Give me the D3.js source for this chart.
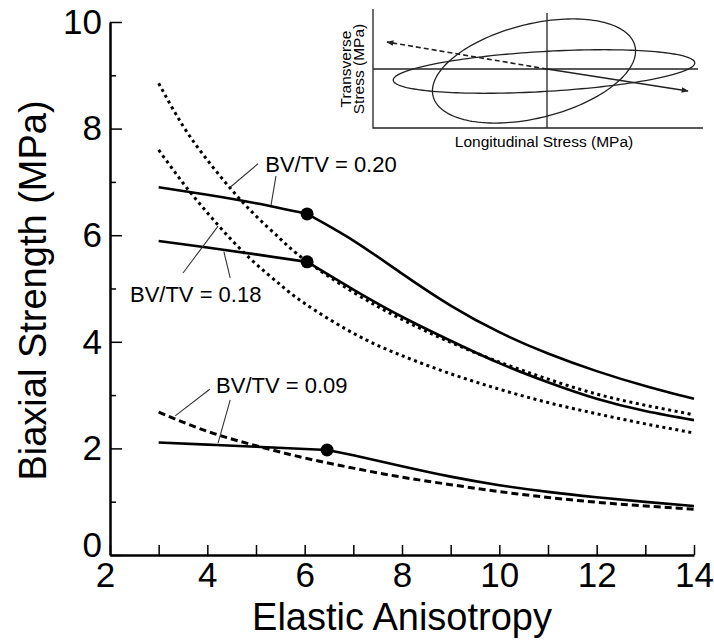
<!DOCTYPE html>
<html>
<head>
<meta charset="utf-8">
<script src="https://cdn.jsdelivr.net/npm/d3@7"></script>
<style>
  body { margin: 0; background: #fff; }
  svg text { font-family: "Liberation Sans", Arial, Helvetica, sans-serif; fill: #000; }
</style>
</head>
<body>
<svg id="grafico" width="714" height="640"></svg>
<script>
const ancho = 714;
const alto = 640;

// BV/TV = 0.20
const solido20X = [3, 4, 5, 6.05, 7, 8, 9, 10, 11, 12, 13, 14];
const solido20Y = [6.90, 6.76, 6.60, 6.40, 5.90, 5.28, 4.68, 4.18, 3.78, 3.45, 3.17, 2.93];
const punteado20X = [3, 3.5, 4, 4.5, 5, 5.5, 6, 7, 8, 9, 10, 11, 12, 13, 14];
const punteado20Y = [8.85, 8.05, 7.41, 6.85, 6.36, 5.93, 5.54, 4.93, 4.42, 3.99, 3.62, 3.30, 3.02, 2.81, 2.63];

// BV/TV = 0.18
const solido18X = [3, 4, 5, 6.05, 7, 8, 9, 10, 11, 12, 13, 14];
const solido18Y = [5.89, 5.77, 5.64, 5.50, 4.98, 4.47, 4.02, 3.60, 3.24, 2.93, 2.70, 2.53];
const punteado18X = [3, 3.5, 4, 4.5, 5, 5.5, 6, 7, 8, 9, 10, 11, 12, 13, 14];
const punteado18Y = [7.60, 6.98, 6.42, 5.91, 5.46, 5.07, 4.72, 4.16, 3.74, 3.40, 3.11, 2.86, 2.65, 2.46, 2.29];

// BV/TV = 0.09
const solido09X = [3, 4, 5, 6.46, 7, 8, 9, 10, 11, 12, 13, 14];
const solido09Y = [2.11, 2.07, 2.03, 1.97, 1.87, 1.665, 1.47, 1.31, 1.185, 1.085, 0.997, 0.92];
const rayado09X = [3, 4, 5, 6, 7, 8, 9, 10, 11, 12, 13, 14];
const rayado09Y = [2.68, 2.32, 2.05, 1.82, 1.63, 1.46, 1.32, 1.19, 1.08, 0.99, 0.92, 0.86];

// indice del punto de quiebre (circulo negro) en cada curva solida
const quiebres = [3, 3, 3];

const ticksX = [2, 3, 4, 5, 6, 7, 8, 9, 10, 11, 12, 13, 14];
const ticksYMayor = [0, 2, 4, 6, 8, 10];
const ticksYMenor = [1, 3, 5, 7, 9];

const etiquetas = ["BV/TV = 0.20", "BV/TV = 0.18", "BV/TV = 0.09"];

// recuadro: elipses de tension (centro, semiejes, giro en grados)
const elipsesCx = [-0.13, -0.03];
const elipsesCy = [-0.02, -0.025];
const elipsesA = [1.04, 1.51];
const elipsesB = [0.47, 0.20];
const elipsesAng = [14, 3.3];
const flechaPunteadaFin = [-1.60, 0.27];
const flechaSolidaFin = [1.41, -0.22];

const svg = d3.select("#grafico");

const x = d3.scaleLinear().domain([2, 14]).range([110, 694]);
const y = d3.scaleLinear().domain([0, 10]).range([555, 22]);

const zip = (xs, ys) => xs.map((v, i) => [v, ys[i]]);
const linea = d3.line().x(d => x(d[0])).y(d => y(d[1])).curve(d3.curveNatural);

// ejes
const ejeX = svg.append("g")
  .attr("transform", `translate(0,${y(0)})`)
  .call(d3.axisBottom(x).tickValues(ticksX).tickSizeInner(-10).tickSizeOuter(0).tickPadding(7)
    .tickFormat(d => d % 2 === 0 ? d : ""));
ejeX.select(".domain").attr("stroke-width", 2.5);
ejeX.selectAll(".tick line").attr("stroke-width", 1.5);
ejeX.selectAll(".tick text").attr("font-size", 35)
  .attr("dx", d => d === 2 ? -5 : 0);

const ejeY = svg.append("g")
  .attr("transform", `translate(${x(2)},0)`)
  .call(d3.axisLeft(y).tickValues(ticksYMayor).tickSizeInner(-12).tickSizeOuter(0).tickPadding(8));
ejeY.select(".domain").attr("stroke-width", 2.5);
ejeY.selectAll(".tick line").attr("stroke-width", 1.5);
ejeY.selectAll(".tick text").attr("font-size", 35)
  .attr("dy", d => d === 0 ? "0.05em" : "0.32em");

const ejeYMenor = svg.append("g")
  .attr("transform", `translate(${x(2)},0)`)
  .call(d3.axisLeft(y).tickValues(ticksYMenor).tickSizeInner(-6).tickSizeOuter(0).tickFormat(""));
ejeYMenor.select(".domain").remove();
ejeYMenor.selectAll(".tick line").attr("stroke-width", 1.5);

svg.append("text")
  .attr("x", (x(2) + x(14)) / 2).attr("y", 630)
  .attr("text-anchor", "middle").attr("font-size", 38)
  .text("Elastic Anisotropy");

svg.append("text")
  .attr("transform", `translate(46,${(y(0) + y(10)) / 2 + 2}) rotate(-90)`)
  .attr("text-anchor", "middle").attr("font-size", 38)
  .text("Biaxial Strength (MPa)");

// curvas teoricas (punteadas / rayada)
const curvasDiscontinuas = [
  { datos: zip(punteado20X, punteado20Y), guion: "3,3.6" },
  { datos: zip(punteado18X, punteado18Y), guion: "3,3.6" },
  { datos: zip(rayado09X, rayado09Y), guion: "7,4" }
];
svg.selectAll(".discontinua")
  .data(curvasDiscontinuas)
  .enter()
  .append("path")
  .attr("class", "discontinua")
  .attr("fill", "none")
  .attr("stroke", "#000")
  .attr("stroke-width", 3)
  .attr("stroke-dasharray", d => d.guion)
  .attr("d", d => linea(d.datos));

// curvas solidas, en dos tramos a cada lado del quiebre
const curvasSolidas = [
  zip(solido20X, solido20Y),
  zip(solido18X, solido18Y),
  zip(solido09X, solido09Y)
];
const tramos = [];
curvasSolidas.forEach((c, i) => {
  tramos.push(c.slice(0, quiebres[i] + 1));
  tramos.push(c.slice(quiebres[i]));
});
svg.selectAll(".solida")
  .data(tramos)
  .enter()
  .append("path")
  .attr("class", "solida")
  .attr("fill", "none")
  .attr("stroke", "#000")
  .attr("stroke-width", 2.6)
  .attr("d", d => linea(d));

svg.selectAll(".quiebre")
  .data(curvasSolidas.map((c, i) => c[quiebres[i]]))
  .enter()
  .append("circle")
  .attr("class", "quiebre")
  .attr("cx", d => x(d[0]))
  .attr("cy", d => y(d[1]))
  .attr("r", 6.5)
  .attr("fill", "#000");

// etiquetas con lineas guia
const posEtiquetas = [[5.19, 7.19], [2.41, 4.75], [4.18, 3.04]];
const guias = [
  [[5.04, 7.34], [4.47, 6.90]], [[5.41, 7.11], [5.31, 6.57]],
  [[3.50, 5.29], [4.22, 6.17]], [[4.47, 5.20], [4.34, 5.69]],
  [[4.05, 3.11], [3.34, 2.61]], [[4.47, 2.91], [4.22, 2.10]]
];
svg.selectAll(".guia")
  .data(guias)
  .enter()
  .append("line")
  .attr("class", "guia")
  .attr("x1", d => x(d[0][0])).attr("y1", d => y(d[0][1]))
  .attr("x2", d => x(d[1][0])).attr("y2", d => y(d[1][1]))
  .attr("stroke", "#333")
  .attr("stroke-width", 1.1);

svg.selectAll(".etiqueta")
  .data(etiquetas)
  .enter()
  .append("text")
  .attr("class", "etiqueta")
  .attr("x", (d, i) => x(posEtiquetas[i][0]))
  .attr("y", (d, i) => y(posEtiquetas[i][1]))
  .attr("font-size", 22)
  .text(d => d);

// recuadro esquematico
const ix = d3.scaleLinear().domain([-1.74, 1.56]).range([373, 703]);
const iy = d3.scaleLinear().domain([-0.59, 0.60]).range([128, 9]);
const recuadro = svg.append("g").attr("stroke", "#222").attr("fill", "none").attr("stroke-width", 1.3);

recuadro.append("path")
  .attr("d", `M${ix(-1.74)},${iy(0.60)}V${iy(-0.59)}H${ix(1.56)}`);
recuadro.append("line")
  .attr("x1", ix(-1.74)).attr("x2", ix(1.51)).attr("y1", iy(0)).attr("y2", iy(0));
recuadro.append("line")
  .attr("x1", ix(0)).attr("x2", ix(0)).attr("y1", iy(-0.59)).attr("y2", iy(0.56));

const lineaCerrada = d3.line().x(d => ix(d[0])).y(d => iy(d[1])).curve(d3.curveLinearClosed);
elipsesCx.forEach((cx, i) => {
  const phi = elipsesAng[i] * Math.PI / 180;
  const pts = d3.range(0, 2 * Math.PI, Math.PI / 90).map(t => [
    cx + elipsesA[i] * Math.cos(t) * Math.cos(phi) - elipsesB[i] * Math.sin(t) * Math.sin(phi),
    elipsesCy[i] + elipsesA[i] * Math.cos(t) * Math.sin(phi) + elipsesB[i] * Math.sin(t) * Math.cos(phi)
  ]);
  recuadro.append("path").attr("d", lineaCerrada(pts));
});

svg.append("defs").append("marker")
  .attr("id", "punta")
  .attr("viewBox", "0 -5 10 10")
  .attr("refX", 9).attr("refY", 0)
  .attr("markerWidth", 9).attr("markerHeight", 7)
  .attr("markerUnits", "userSpaceOnUse")
  .attr("orient", "auto")
  .append("path")
  .attr("d", "M0,-4L10,0L0,4Z")
  .attr("fill", "#222");

recuadro.append("line")
  .attr("x1", ix(0)).attr("y1", iy(0))
  .attr("x2", ix(flechaPunteadaFin[0])).attr("y2", iy(flechaPunteadaFin[1]))
  .attr("stroke-width", 1.6)
  .attr("stroke-dasharray", "5,3")
  .attr("marker-end", "url(#punta)");
recuadro.append("line")
  .attr("x1", ix(0)).attr("y1", iy(0))
  .attr("x2", ix(flechaSolidaFin[0])).attr("y2", iy(flechaSolidaFin[1]))
  .attr("stroke-width", 1.6)
  .attr("marker-end", "url(#punta)");

svg.append("text")
  .attr("x", ix(0) - 3).attr("y", 147)
  .attr("text-anchor", "middle").attr("font-size", 15.5).attr("fill", "#222")
  .text("Longitudinal Stress (MPa)");

const rotulo = svg.append("text")
  .attr("transform", `translate(351,${iy(0)}) rotate(-90)`)
  .attr("text-anchor", "middle").attr("font-size", 15.5).attr("fill", "#222");
rotulo.append("tspan").attr("x", 0).attr("y", 0).text("Transverse");
rotulo.append("tspan").attr("x", 0).attr("y", 13).text("Stress (MPa)");
</script>
</body>
</html>
